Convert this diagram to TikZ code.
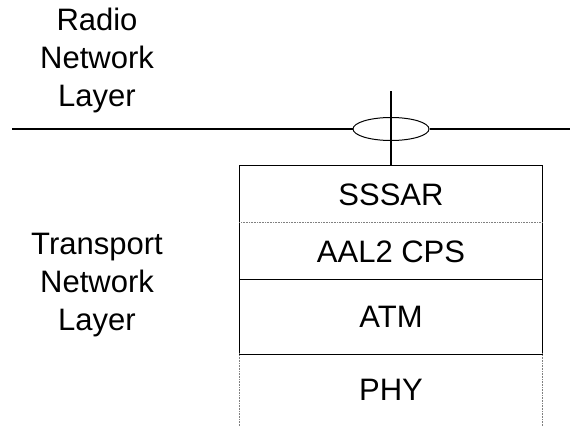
\documentclass[tikz,border=0pt]{standalone}
\usepackage{fontspec}
\setmainfont{Liberation Sans}
\usetikzlibrary{shapes.geometric}

\begin{document}
\begin{tikzpicture}[
            x = 1pt, y = -1pt, % pixel like units, y downwards
            line width = 1.2pt,
            font = \fontsize{31}{38}\selectfont
        ]

        \tikzstyle{layer}=[
            draw = none,
            inner sep = 0pt,
            minimum width = 302pt
        ]
        \tikzstyle{dotline}=[
            densely dotted,
            line width = 0.6pt,
            draw = gray
        ]

        \useasboundingbox (0, 0) rectangle (570, 426);

        \node[align = center] (radio) [at={(97, 60)}] {Radio\\Network\\Layer};
        \node[align = center] (transport) [at={(97, 285)}] {Transport\\Network\\Layer};

        \node[layer, minimum height = 57pt] (sssar) [at={(391, 194.5)}] {SSSAR};
        \node[layer, minimum height = 57pt] (aal) [at={(391, 251.5)}] {AAL2 CPS};
        \node[layer, minimum height = 74pt] (atm) [at={(391, 317)}] {ATM};
        \node[layer, minimum height = 72pt] (phy) [at={(391, 390)}] {PHY};

        \node[ellipse, draw, line width = 1pt, minimum width = 76pt, minimum height = 23pt] (bundle) [at={(391, 129)}] {};
        \coordinate (lend) at (12, 129);
        \coordinate (rend) at (570, 129);
        \coordinate (top) at (391, 91);

        % radio network layer line
        \draw (lend) -- (bundle);
        \draw (bundle) -- (rend);
        \draw (top) -- (sssar.north);

        % stack
        \draw (sssar.north west) -- (sssar.north east);
        \draw (sssar.north west) -- (atm.south west);
        \draw (sssar.north east) -- (atm.south east);
        \draw[dotline] (aal.north west) -- (aal.north east);
        \draw (atm.north west) -- (atm.north east);
        \draw (atm.south west) -- (atm.south east);
        \draw[dotline] (phy.north west) -- (phy.south west);
        \draw[dotline] (phy.north east) -- (phy.south east);
    \end{tikzpicture}
\end{document}
